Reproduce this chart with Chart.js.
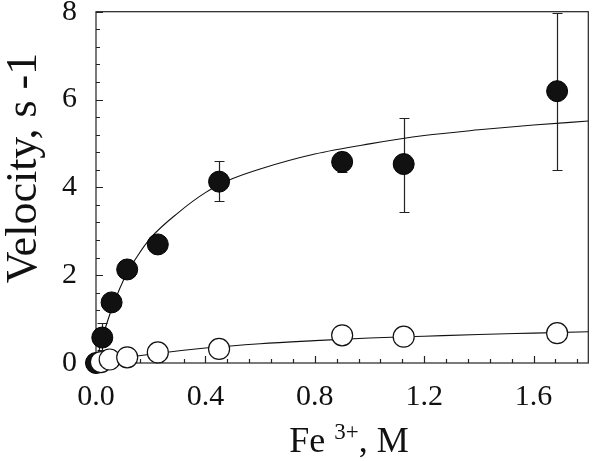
<!DOCTYPE html>
<html>
<head>
<meta charset="utf-8">
<script src="https://cdn.jsdelivr.net/npm/chart.js@4/dist/chart.umd.min.js"></script>
<style>
html,body{margin:0;padding:0;background:#fff;}
#wrap{width:600px;height:461px;}
</style>
</head>
<body>
<div id="wrap"><canvas id="c" width="600" height="461"></canvas></div>
<script>
// Filled circles (series A)
const filledX = [0, 0.023, 0.057, 0.114, 0.226, 0.45, 0.9, 1.125, 1.686];
const filledY = [0, 0.58, 1.38, 2.13, 2.70, 4.13, 4.58, 4.53, 6.19];
const filledErrLow  = [null, 0.30, null, null, null, 3.68, 4.35, 3.45, 4.40];
const filledErrHigh = [null, 0.90, null, null, null, 4.60, 4.80, 5.58, 7.98];
// Open circles (series B)
const openX = [0.018, 0.05, 0.114, 0.226, 0.45, 0.9, 1.125, 1.686];
const openY = [0.02, 0.08, 0.13, 0.24, 0.32, 0.63, 0.60, 0.68];
// Fitted curves
const fitAX = [0, 0.02, 0.05, 0.1, 0.15, 0.2, 0.3, 0.4, 0.5, 0.6, 0.8, 1.0, 1.2, 1.4, 1.6, 1.8];
const fitAY = [0, 0.50, 1.10, 1.88, 2.42, 2.85, 3.42, 3.88, 4.20, 4.42, 4.76, 4.99, 5.18, 5.31, 5.42, 5.51];
const fitBX = [0, 0.1, 0.2, 0.4, 0.6, 0.8, 1.0, 1.2, 1.4, 1.6, 1.8];
const fitBY = [0, 0.11, 0.20, 0.34, 0.44, 0.51, 0.57, 0.61, 0.65, 0.68, 0.71];
// Axis ticks
const xTickValues = [0, 0.4, 0.8, 1.2, 1.6];
const yTickValues = [0, 2, 4, 6, 8];
const xTitle = ["Fe", "3+", ", M"];
const yTitle = "Velocity, s -1";

const FONT = "'Liberation Serif', 'Times New Roman', serif";
const pts = (xs, ys) => xs.map((x, i) => ({x: x, y: ys[i]}));

const errorBars = {
  id: 'errorBars',
  beforeDatasetsDraw(chart) {
    const ctx = chart.ctx, xs = chart.scales.x, ys = chart.scales.y;
    ctx.save();
    ctx.strokeStyle = '#222';
    ctx.lineWidth = 1.2;
    filledX.forEach((x, i) => {
      if (filledErrLow[i] == null) return;
      const px = Math.round(xs.getPixelForValue(x)) + 0.5;
      const y1 = Math.round(ys.getPixelForValue(filledErrLow[i])) + 0.5;
      const y2 = Math.round(ys.getPixelForValue(filledErrHigh[i])) + 0.5;
      ctx.beginPath();
      ctx.moveTo(px, y1); ctx.lineTo(px, y2);
      ctx.moveTo(px - 5, y1); ctx.lineTo(px + 5, y1);
      ctx.moveTo(px - 5, y2); ctx.lineTo(px + 5, y2);
      ctx.stroke();
    });
    ctx.restore();
  }
};

const frameAndTicks = {
  id: 'frameAndTicks',
  beforeDatasetsDraw(chart) {
    const ctx = chart.ctx, a = chart.chartArea, xs = chart.scales.x, ys = chart.scales.y;
    ctx.save();
    ctx.strokeStyle = '#222';
    ctx.lineWidth = 1.2;
    ctx.strokeRect(a.left, a.top, a.right - a.left, a.bottom - a.top);
    ctx.beginPath();
    for (let k = 0; k <= 22; k++) {
      const v = k * 0.08;
      const px = Math.round(xs.getPixelForValue(v)) + 0.5;
      const len = (k % 5 === 0) ? 7 : 4;
      ctx.moveTo(px, a.bottom); ctx.lineTo(px, a.bottom - len);
    }
    for (let k = 0; k <= 20; k++) {
      const v = k * 0.4;
      const py = Math.round(ys.getPixelForValue(v)) + 0.5;
      const len = (k % 5 === 0) ? 7 : 4;
      ctx.moveTo(a.left, py); ctx.lineTo(a.left + len, py);
    }
    ctx.stroke();
    ctx.restore();
  },
  afterDraw(chart) {
    const ctx = chart.ctx;
    ctx.save();
    ctx.fillStyle = '#111';
    // x title
    const big = "36px " + FONT, small = "23px " + FONT;
    ctx.font = big; const w1 = ctx.measureText(xTitle[0] + " ").width;
    ctx.font = small; const w2 = ctx.measureText(xTitle[1]).width;
    ctx.font = big; const w3 = ctx.measureText(xTitle[2]).width;
    let x0 = 349 - (w1 + w2 + w3) / 2;
    const base = 452;
    ctx.textBaseline = 'alphabetic'; ctx.textAlign = 'left';
    ctx.font = big; ctx.fillText(xTitle[0], x0, base);
    ctx.font = small; ctx.fillText(xTitle[1], x0 + w1, base - 13);
    ctx.font = big; ctx.fillText(xTitle[2], x0 + w1 + w2, base);
    // y title
    ctx.translate(36, 168);
    ctx.rotate(-Math.PI / 2);
    ctx.font = "44px " + FONT;
    ctx.textAlign = 'center';
    ctx.fillText(yTitle, 0, 0);
    ctx.restore();
  }
};

new Chart(document.getElementById('c'), {
  type: 'scatter',
  data: {
    datasets: [
      { label: 'open', data: pts(openX, openY), order: 0, clip: false,
        pointRadius: 10.5, pointHoverRadius: 10.5, pointBackgroundColor: '#fff',
        pointBorderColor: '#111', pointBorderWidth: 1.2, showLine: false },
      { label: 'filled', data: pts(filledX, filledY), order: 1, clip: false,
        pointRadius: 10.5, pointHoverRadius: 10.5, pointBackgroundColor: '#111',
        pointBorderColor: '#000', pointBorderWidth: 1, showLine: false },
      { label: 'fitA', data: pts(fitAX, fitAY), order: 2, showLine: true,
        pointRadius: 0, borderColor: '#111', borderWidth: 1.1, cubicInterpolationMode: 'monotone' },
      { label: 'fitB', data: pts(fitBX, fitBY), order: 3, showLine: true,
        pointRadius: 0, borderColor: '#111', borderWidth: 1.1, cubicInterpolationMode: 'monotone' }
    ]
  },
  options: {
    responsive: false,
    animation: false,
    events: [],
    layout: { padding: { top: 10, right: 1, left: 0, bottom: 0 } },
    plugins: { legend: { display: false }, tooltip: { enabled: false } },
    scales: {
      x: {
        type: 'linear', min: 0, max: 1.8,
        afterFit(s) { s.height = 98; s.paddingLeft = 0; s.paddingRight = 0; s.paddingTop = 0; s.paddingBottom = 0; },
        afterBuildTicks(s) { s.ticks = xTickValues.map(v => ({value: v})); },
        ticks: { callback: v => Number(v).toFixed(1), font: { family: FONT, size: 30 }, color: '#111', padding: 16, maxRotation: 0, autoSkip: false },
        grid: { display: false, drawTicks: false },
        border: { display: false }
      },
      y: {
        type: 'linear', min: 0, max: 8,
        afterFit(s) { s.width = 96; s.paddingLeft = 0; s.paddingRight = 0; s.paddingTop = 0; s.paddingBottom = 0; },
        afterBuildTicks(s) { s.ticks = yTickValues.map(v => ({value: v})); },
        ticks: { callback: v => String(v), font: { family: FONT, size: 30 }, color: '#111', padding: 19, autoSkip: false },
        grid: { display: false, drawTicks: false },
        border: { display: false }
      }
    }
  },
  plugins: [frameAndTicks, errorBars]
});
</script>
</body>
</html>
